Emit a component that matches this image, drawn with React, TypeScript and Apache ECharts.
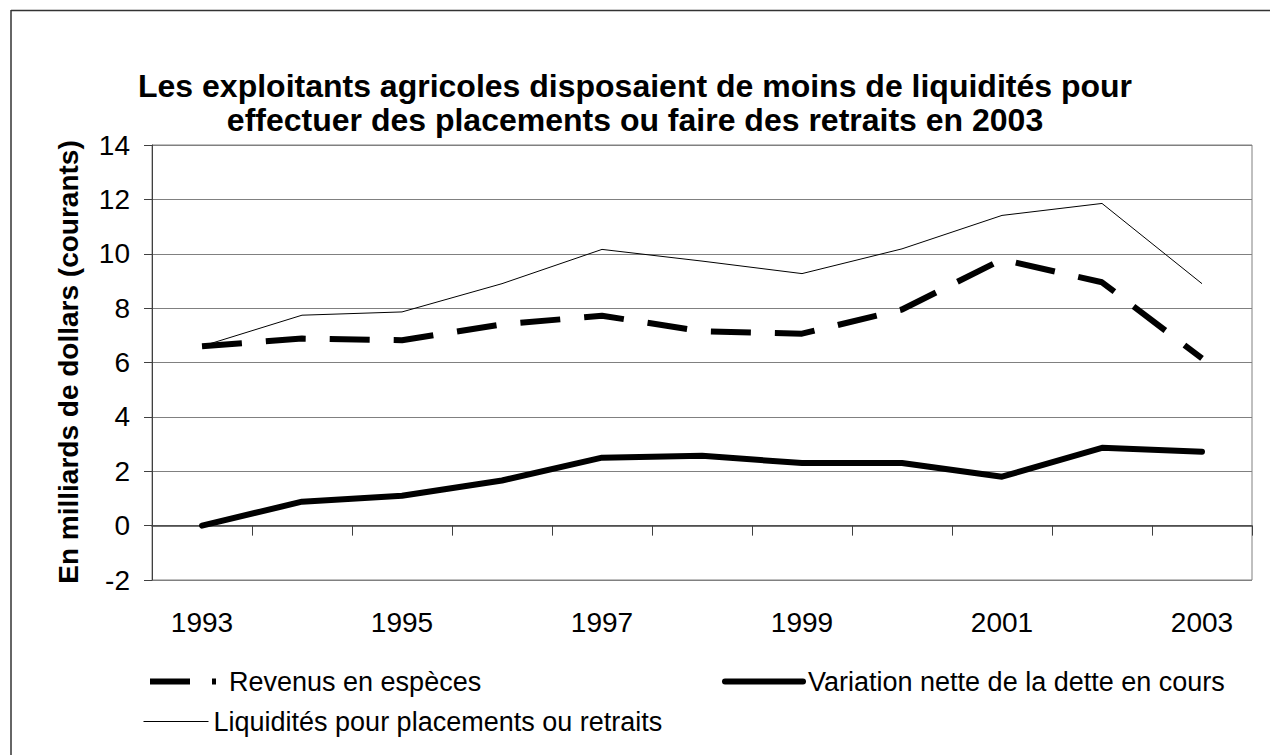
import React, { useEffect, useRef } from "react";
import * as echarts from "echarts";

const years = ["1993", "1994", "1995", "1996", "1997", "1998", "1999", "2000", "2001", "2002", "2003"];
const revenus = [6.6, 6.88, 6.82, 7.4, 7.72, 7.15, 7.06, 7.95, 9.79, 8.95, 6.15];
const variation = [0.0, 0.88, 1.1, 1.66, 2.5, 2.57, 2.3, 2.3, 1.8, 2.86, 2.72];
const liquidites = [6.6, 7.74, 7.86, 8.9, 10.16, 9.73, 9.27, 10.18, 11.41, 11.85, 8.9];

const nameRevenus = "Revenus en espèces";
const nameVariation = "Variation nette de la dette en cours";
const nameLiquidites = "Liquidités pour placements ou retraits";

const titleText = "Les exploitants agricoles disposaient de moins de liquidités pour\neffectuer des placements ou faire des retraits en 2003";
const yAxisTitle = "En milliards de dollars (courants)";

const FONT = "'Liberation Sans', Arial, sans-serif";

export default function App() {
  const ref = useRef<HTMLDivElement>(null);
  useEffect(() => {
    if (!ref.current) return;
    const chart = echarts.init(ref.current, undefined, { renderer: "svg" });
    const legendText = { fontSize: 27, color: "#000", fontFamily: FONT };
    const legendCommon = {
      orient: "horizontal",
      itemHeight: 14,
      itemStyle: { opacity: 0, borderWidth: 0 },
      padding: 0,
      selectedMode: false,
    };
    chart.setOption({
      animation: false,
      backgroundColor: "#fff",
      textStyle: { fontFamily: FONT },
      title: {
        text: titleText,
        left: "center",
        top: 64,
        textStyle: { fontSize: 32, fontWeight: "bold", color: "#000", lineHeight: 34, fontFamily: FONT },
      },
      grid: { left: 152, top: 145, width: 1100, height: 435, show: true, borderColor: "#808080", borderWidth: 1, backgroundColor: "transparent" },
      legend: [
        { ...legendCommon, data: [nameRevenus], left: 147, top: 684 - 16, itemWidth: 66, lineStyle: { width: 6, type: [40, 22], cap: "butt" }, textStyle: { ...legendText, padding: [0, 0, 0, 8] } },
        { ...legendCommon, data: [nameVariation], left: 722, top: 684 - 16, itemWidth: 78, lineStyle: { width: 6, cap: "round" }, textStyle: legendText },
        { ...legendCommon, data: [nameLiquidites], left: 143, top: 724 - 16, itemWidth: 65, lineStyle: { width: 1 }, textStyle: legendText },
      ],
      xAxis: {
        type: "category",
        data: years,
        boundaryGap: true,
        axisLine: { lineStyle: { color: "#404040", width: 1.5 } },
        axisTick: { show: true, interval: 0, length: 10, lineStyle: { color: "#404040" } },
        axisLabel: { interval: 1, fontSize: 28, color: "#000", margin: 28, fontFamily: FONT },
        splitLine: { show: false },
      },
      yAxis: {
        type: "value",
        min: -2,
        max: 14,
        interval: 2,
        axisLine: { show: true, lineStyle: { color: "#404040" } },
        axisTick: { show: true, length: 8, lineStyle: { color: "#404040" } },
        axisLabel: { fontSize: 28, color: "#000", margin: 22, fontFamily: FONT },
        splitLine: { show: true, lineStyle: { color: "#808080", width: 1 } },
      },
      graphic: [
        {
          type: "text",
          x: 68,
          y: 362,
          rotation: Math.PI / 2,
          style: { text: yAxisTitle, font: `bold 28px ${FONT}`, fill: "#000", textAlign: "center", textVerticalAlign: "middle" },
        },
        { type: "line", shape: { x1: 11, y1: 10.5, x2: 1280, y2: 10.5 }, style: { stroke: "#333", lineWidth: 1.5 } },
        { type: "line", shape: { x1: 11, y1: 10, x2: 11, y2: 800 }, style: { stroke: "#333", lineWidth: 1.5 } },
      ],
      series: [
        {
          name: nameRevenus,
          type: "line",
          data: revenus,
          symbol: "circle",
          showSymbol: false,
          lineStyle: { color: "#000", width: 6, type: [40, 24], cap: "butt" },
          itemStyle: { color: "#000" },
          z: 3,
        },
        {
          name: nameVariation,
          type: "line",
          data: variation,
          symbol: "circle",
          showSymbol: false,
          lineStyle: { color: "#000", width: 6, cap: "round", join: "round" },
          itemStyle: { color: "#000" },
          z: 3,
        },
        {
          name: nameLiquidites,
          type: "line",
          data: liquidites,
          symbol: "circle",
          showSymbol: false,
          lineStyle: { color: "#000", width: 1 },
          itemStyle: { color: "#000" },
          z: 2,
        },
      ],
    });
    return () => chart.dispose();
  }, []);
  return <div ref={ref} style={{ position: "fixed", left: 0, top: 0, width: 1270, height: 755 }} />;
}
